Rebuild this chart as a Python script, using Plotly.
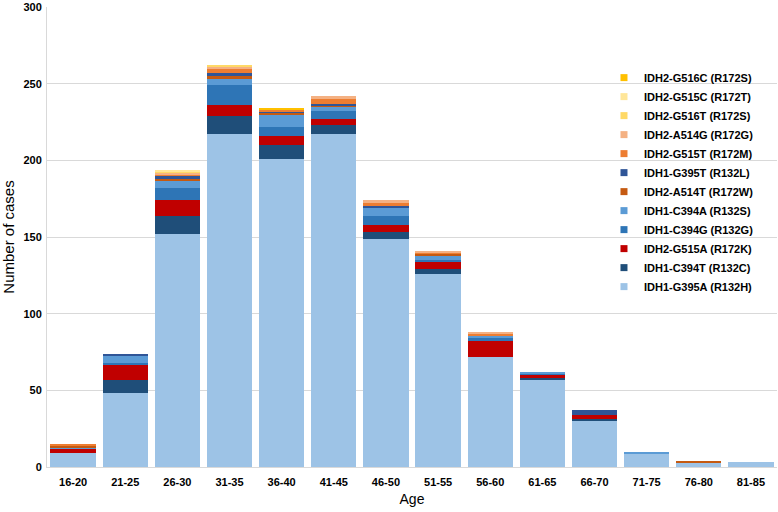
import plotly.graph_objects as go

ages = ["16-20", "21-25", "26-30", "31-35", "36-40", "41-45", "46-50",
        "51-55", "56-60", "61-65", "66-70", "71-75", "76-80", "81-85"]

# series, bottom to top of the stack
idh1_g395a_r132h = [9, 48, 152, 217, 201, 217, 149, 126, 72, 57, 30, 9, 3, 3]
idh1_c394t_r132c = [0, 9, 12, 12, 9, 6, 4, 3, 0, 1, 1, 0, 0, 0]
idh2_g515a_r172k = [3, 10, 10, 7, 6, 4, 5, 5, 10, 2, 3, 0, 0, 0]
idh1_c394g_r132g = [0, 1, 8, 13, 6, 5, 6, 1, 2, 1, 0, 0, 0, 0]
idh1_c394a_r132s = [1, 5, 5, 4, 8, 3, 5, 3, 2, 1, 0, 1, 0, 0]
idh2_a514t_r172w = [1, 0, 1, 2, 1, 1, 0, 1, 0, 0, 0, 0, 1, 0]
idh1_g395t_r132l = [0, 1, 2, 2, 1, 1, 1, 0, 0, 0, 3, 0, 0, 0]
idh2_g515t_r172m = [1, 0, 1, 3, 1, 3, 2, 1, 1, 0, 0, 0, 0, 0]
idh2_a514g_r172g = [0, 0, 1, 1, 0, 2, 2, 1, 1, 0, 0, 0, 0, 0]
idh2_g516t_r172s = [0, 0, 1, 1, 0, 0, 0, 0, 0, 0, 0, 0, 0, 0]
idh2_g515c_r172t = [0, 0, 1, 0, 0, 0, 0, 0, 0, 0, 0, 0, 0, 0]
idh2_g516c_r172s = [0, 0, 0, 0, 1, 0, 0, 0, 0, 0, 0, 0, 0, 0]

series = [
    ("IDH1-G395A (R132H)", idh1_g395a_r132h, "#9DC3E6"),
    ("IDH1-C394T (R132C)", idh1_c394t_r132c, "#1F4E79"),
    ("IDH2-G515A (R172K)", idh2_g515a_r172k, "#C00000"),
    ("IDH1-C394G (R132G)", idh1_c394g_r132g, "#2E75B6"),
    ("IDH1-C394A (R132S)", idh1_c394a_r132s, "#5B9BD5"),
    ("IDH2-A514T (R172W)", idh2_a514t_r172w, "#C55A11"),
    ("IDH1-G395T (R132L)", idh1_g395t_r132l, "#2F5597"),
    ("IDH2-G515T (R172M)", idh2_g515t_r172m, "#ED7D31"),
    ("IDH2-A514G (R172G)", idh2_a514g_r172g, "#F4B183"),
    ("IDH2-G516T (R172S)", idh2_g516t_r172s, "#FFD966"),
    ("IDH2-G515C (R172T)", idh2_g515c_r172t, "#FFE699"),
    ("IDH2-G516C (R172S)", idh2_g516c_r172s, "#FFC000"),
]

fig = go.Figure()
for i, (name, vals, color) in enumerate(series):
    fig.add_trace(go.Bar(x=ages, y=vals, name=name, legendgroup=f"g{i}",
                         showlegend=False,
                         marker=dict(color=color, line=dict(width=0))))

# legend entries with small square swatches (top entry = top of stack)
for i in range(len(series) - 1, -1, -1):
    name, vals, color = series[i]
    fig.add_trace(go.Scatter(x=[None], y=[None], mode="markers", name=name,
                             legendgroup=f"g{i}", showlegend=True,
                             marker=dict(symbol="square", size=7, color=color),
                             hoverinfo="skip"))

font_family = "Liberation Sans, Arial, sans-serif"
fig.update_layout(
    width=778, height=512,
    barmode="stack", bargap=0.13,
    plot_bgcolor="white", paper_bgcolor="white",
    margin=dict(l=47, r=1, t=4, b=45),
    font=dict(family=font_family, color="#000000"),
    legend=dict(
        traceorder="normal",
        x=0.763, xanchor="left", y=0.878, yanchor="top",
        font=dict(family=font_family, size=11, color="#000000", weight="bold"),
        bgcolor="rgba(0,0,0,0)",
        itemwidth=30,
        tracegroupgap=0,
    ),
    xaxis=dict(
        title=dict(text="Age", font=dict(size=14, color="#000000"), standoff=6),
        tickfont=dict(size=11, color="#000000", weight="bold"),
        ticklabelstandoff=5,
        showline=True, linecolor="#D9D9D9", linewidth=1,
        ticks="", showgrid=False,
    ),
    yaxis=dict(
        title=dict(text="Number of cases", font=dict(size=15, color="#000000"), standoff=12),
        range=[0, 300], dtick=50,
        tickfont=dict(size=11, color="#000000", weight="bold"),
        ticklabeloverflow="allow",
        ticklabelstandoff=2,
        showgrid=True, gridcolor="#D9D9D9", gridwidth=1,
        showline=True, linecolor="#D9D9D9", linewidth=1,
        zeroline=False, ticks="",
    ),
)

fig.write_html("out.html",
               config={"displayModeBar": False},
               post_script="document.body.style.margin='0';document.body.style.overflow='hidden';")
